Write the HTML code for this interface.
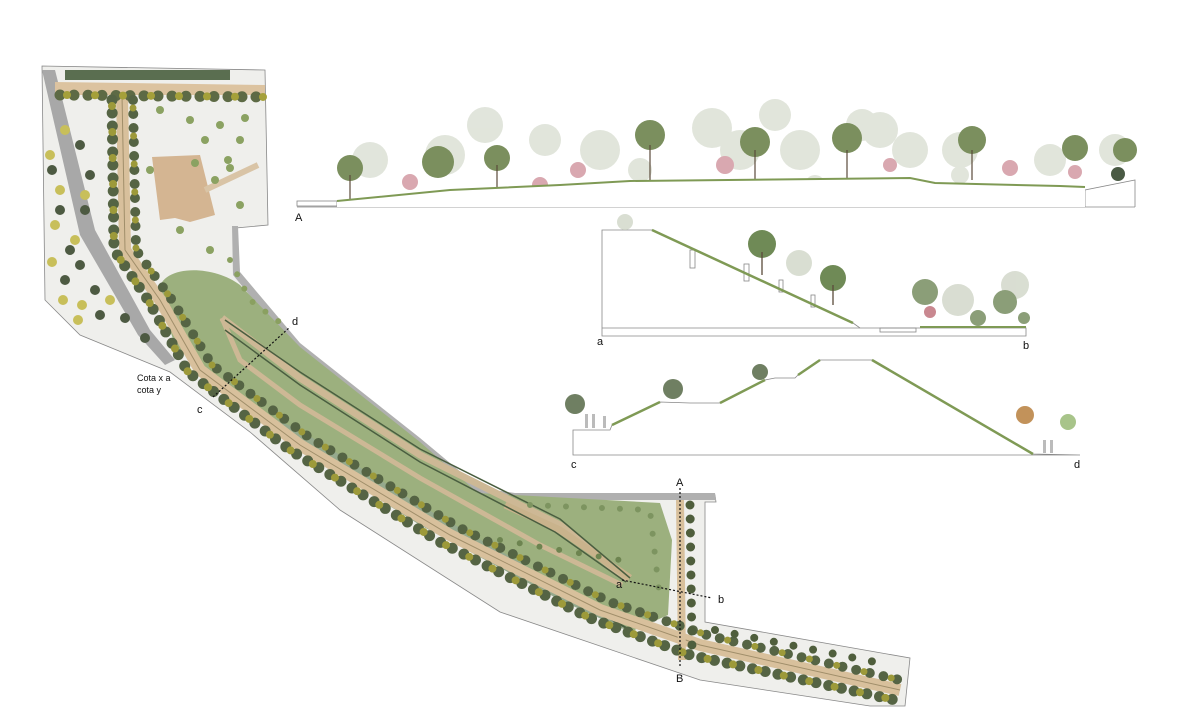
<!DOCTYPE html>
<html><head><meta charset="utf-8"><style>
html,body{margin:0;padding:0;background:#fff;}
svg{display:block;font-family:"Liberation Sans",sans-serif;}
</style></head><body>
<svg width="1189" height="724" viewBox="0 0 1189 724" xmlns="http://www.w3.org/2000/svg">
<!-- PLAN -->
<path d="M42,66 L265,70 L268,225 L236,228 L238,272 L300,345 L420,440 L480,490 L515,495 L715,495 L716,502 L705,502 L705,622 L910,658 L905,706 L870,706 L700,680 L500,612 L340,510 L250,432 L170,372 L80,335 L45,300 Z" fill="#efefec" stroke="#888" stroke-width="0.8"/>
<path d="M42,70 L55,70 L95,230 L150,330 L175,360 L165,365 L138,335 L80,235 Z" fill="#a8a8a8"/>
<path d="M232,226 L238,226 L240,272 L300,343 L420,438 L480,488 L515,493 L715,493 L716,500 L512,500 L476,494 L415,445 L295,350 L233,275 Z" fill="#b0b0b0"/>
<rect x="65" y="70" width="165" height="10" fill="#5a6e50"/>
<path d="M55,82 L265,85 L265,95 L55,95 Z" fill="#dcc3a0"/>
<path d="M152,157 L200,155 L215,215 L190,222 L175,218 L160,220 Z" fill="#d4b592"/>
<path d="M205,190 L258,165" stroke="#d9c4a6" stroke-width="6" fill="none"/>
<!-- meadow -->
<path d="M160,300 C150,265 210,262 240,285 L300,347 L420,442 L478,493 L660,503 L672,540 L668,615 L630,632 L560,600 L420,525 L300,450 L220,390 L175,345 Z" fill="#9cb07e"/>
<path d="M230,400 L300,450 L420,525 L560,600 L630,632 L560,585 L420,505 L300,430 Z" fill="#8fa1a0" opacity="0.45"/>
<!-- ramps -->
<path d="M222,318 L300,378 L420,455 L560,525 L628,580" stroke="#cdb895" stroke-width="7" fill="none"/>
<path d="M222,318 L240,360 L300,405 L420,478 L540,545 L622,585" stroke="#cdb895" stroke-width="5" fill="none"/>
<path d="M505,505 L560,530 L630,578" stroke="#c9b38c" stroke-width="7" fill="none"/>
<path d="M225,320 L300,372 L420,449 L560,519 L630,578" stroke="#4a5e40" stroke-width="1.5" fill="none"/>
<path d="M225,330 L300,385 L420,462 L555,532 L626,582" stroke="#4a5e40" stroke-width="1.5" fill="none"/>
<path d="M210,380 L300,440 L430,520 L560,590 L630,630" stroke="#4a5e40" stroke-width="2" fill="none"/>
<!-- main path band -->
<path d="M122,95 L125,250 L160,300 L200,370 L300,445 L450,535 L600,610 L700,645 L900,690" stroke="#d8c09c" stroke-width="12" fill="none"/>
<path d="M122,95 L125,250 L160,300 L200,370 L300,445 L450,535 L600,610 L700,645 L900,690" stroke="#a08e6a" stroke-width="1" fill="none"/>
<path d="M680,500 L682,660" stroke="#d8c09c" stroke-width="8" fill="none"/>
<g fill="none" stroke-linecap="round">
<path d="M60,95 L265,97" stroke="#5d6a45" stroke-width="11" stroke-dasharray="0 14"/>
<path d="M67,95 L265,97" stroke="#a5a03a" stroke-width="8" stroke-dasharray="0 28"/>
<path d="M112,100 L114,250 L148,300 L188,372 L290,450 L440,542 L590,618 L690,655 L895,700" stroke="#556444" stroke-width="11" stroke-dasharray="0 13"/>
<path d="M112,106 L114,250 L148,300 L188,372 L290,450 L440,542 L590,618 L690,655 L895,700" stroke="#9d9a3a" stroke-width="8" stroke-dasharray="0 26"/>
<path d="M133,100 L136,250 L172,300 L212,365 L310,438 L460,528 L610,602 L710,636 L900,680" stroke="#556444" stroke-width="10" stroke-dasharray="0 14"/>
<path d="M133,108 L136,250 L172,300 L212,365 L310,438 L460,528 L610,602 L710,636 L900,680" stroke="#9d9a3a" stroke-width="7" stroke-dasharray="0 28"/>
<path d="M690,505 L692,650" stroke="#4f5e3c" stroke-width="9" stroke-dasharray="0 14"/>
<path d="M715,630 L890,665" stroke="#4f5e3c" stroke-width="8" stroke-dasharray="0 20"/>
<path d="M530,505 L650,510 L660,600" stroke="#7d9460" stroke-width="6" stroke-dasharray="0 18"/>
<path d="M500,540 L620,560" stroke="#6d8450" stroke-width="6" stroke-dasharray="0 20"/>
<path d="M230,260 L250,300 L290,330" stroke="#8aa060" stroke-width="6" stroke-dasharray="0 16"/>
</g>
<g fill="#8ba262">
<circle cx="160" cy="110" r="4"/><circle cx="190" cy="120" r="4"/><circle cx="220" cy="125" r="4"/><circle cx="245" cy="118" r="4"/><circle cx="240" cy="140" r="4"/><circle cx="205" cy="140" r="4"/><circle cx="150" cy="170" r="4"/><circle cx="215" cy="180" r="4"/><circle cx="230" cy="168" r="4"/><circle cx="240" cy="205" r="4"/><circle cx="210" cy="250" r="4"/><circle cx="180" cy="230" r="4"/><circle cx="228" cy="160" r="4"/><circle cx="195" cy="163" r="4"/>
</g>
<g fill="#4d5a42">
<circle cx="80" cy="145" r="5"/><circle cx="90" cy="175" r="5"/><circle cx="52" cy="170" r="5"/><circle cx="60" cy="210" r="5"/><circle cx="85" cy="210" r="5"/><circle cx="80" cy="265" r="5"/><circle cx="65" cy="280" r="5"/><circle cx="95" cy="290" r="5"/><circle cx="100" cy="315" r="5"/><circle cx="125" cy="318" r="5"/><circle cx="145" cy="338" r="5"/><circle cx="70" cy="250" r="5"/>
</g>
<g fill="#c8bf5a">
<circle cx="65" cy="130" r="5"/><circle cx="50" cy="155" r="5"/><circle cx="60" cy="190" r="5"/><circle cx="85" cy="195" r="5"/><circle cx="55" cy="225" r="5"/><circle cx="75" cy="240" r="5"/><circle cx="52" cy="262" r="5"/><circle cx="63" cy="300" r="5"/><circle cx="82" cy="305" r="5"/><circle cx="110" cy="300" r="5"/><circle cx="78" cy="320" r="5"/>
</g>
<g stroke="#111" stroke-width="1.2" stroke-dasharray="2 2" fill="none">
<line x1="213" y1="397" x2="290" y2="327"/>
<line x1="680" y1="488" x2="680" y2="668"/>
<line x1="622" y1="580" x2="712" y2="598"/>
</g>
<g font-size="11" fill="#111">
<text x="137" y="381" font-size="9">Cota x a</text>
<text x="137" y="393" font-size="9">cota y</text>
<text x="197" y="413">c</text>
<text x="292" y="325">d</text>
<text x="676" y="486">A</text>
<text x="676" y="682">B</text>
<text x="616" y="588">a</text>
<text x="718" y="603">b</text>
</g>

<!-- SECTION A -->
<g>
<rect x="297" y="201" width="40" height="5" fill="none" stroke="#888" stroke-width="0.8"/>
<path d="M297,207 L1135,207 M1085,207 L1085,190 L1135,180 L1135,207" stroke="#888" stroke-width="0.8" fill="none"/>
<g opacity="0.55" fill="#c9d0bf">
<circle cx="370" cy="160" r="18"/><circle cx="445" cy="155" r="20"/><circle cx="485" cy="125" r="18"/><circle cx="545" cy="140" r="16"/><circle cx="600" cy="150" r="20"/><circle cx="712" cy="128" r="20"/><circle cx="740" cy="150" r="20"/><circle cx="775" cy="115" r="16"/><circle cx="800" cy="150" r="20"/><circle cx="862" cy="125" r="16"/><circle cx="880" cy="130" r="18"/><circle cx="910" cy="150" r="18"/><circle cx="960" cy="150" r="18"/><circle cx="1050" cy="160" r="16"/><circle cx="1115" cy="150" r="16"/><circle cx="815" cy="185" r="10"/><circle cx="960" cy="175" r="9"/><circle cx="640" cy="170" r="12"/>
</g>
<g fill="#7b8f5e">
<circle cx="350" cy="168" r="13"/><circle cx="438" cy="162" r="16"/><circle cx="497" cy="158" r="13"/><circle cx="650" cy="135" r="15"/><circle cx="755" cy="142" r="15"/><circle cx="847" cy="138" r="15"/><circle cx="972" cy="140" r="14"/><circle cx="1125" cy="150" r="12"/><circle cx="1075" cy="148" r="13"/>
</g>
<g fill="#d9a8b0"><circle cx="410" cy="182" r="8"/><circle cx="540" cy="185" r="8"/><circle cx="578" cy="170" r="8"/><circle cx="725" cy="165" r="9"/><circle cx="1010" cy="168" r="8"/><circle cx="1075" cy="172" r="7"/><circle cx="890" cy="165" r="7"/></g>
<g stroke="#5a4a3a" stroke-width="1.2"><line x1="350" y1="175" x2="350" y2="200"/><line x1="497" y1="165" x2="497" y2="190"/><line x1="650" y1="145" x2="650" y2="182"/><line x1="847" y1="150" x2="847" y2="180"/><line x1="972" y1="150" x2="972" y2="180"/><line x1="755" y1="150" x2="755" y2="181"/></g>
<path d="M337,201 L450,190 L560,185 L630,181 L910,178 L935,183 L1060,186 L1085,187 L1085,207 L337,207 Z" fill="#fff"/>
<path d="M337,201 L450,190 L560,185 L630,181 L910,178 L935,183 L1060,186 L1085,187" stroke="#7f9a55" stroke-width="2" fill="none"/>
<circle cx="1118" cy="174" r="7" fill="#4a5a44"/>
<text x="295" y="221" font-size="11" fill="#111">A</text>
</g>

<!-- SECTION a-b -->
<g stroke="#888" stroke-width="0.8" fill="none">
<path d="M602,230 L652,230 L853,323 L860,328 L1026,328 L1026,336 L602,336 Z"/>
<line x1="602" y1="328" x2="860" y2="328"/>
<rect x="880" y="328" width="36" height="4"/>
<rect x="690" y="250" width="5" height="18"/><rect x="744" y="264" width="5" height="17"/><rect x="779" y="280" width="4" height="12"/><rect x="811" y="295" width="4" height="12"/>
</g>
<path d="M652,230 L853,323" stroke="#7f9a55" stroke-width="2.5"/>
<line x1="920" y1="327" x2="1026" y2="327" stroke="#7f9a55" stroke-width="2"/>
<g fill="#6f8a56"><circle cx="762" cy="244" r="14"/><circle cx="833" cy="278" r="13"/></g>
<g stroke="#5a4a3a" stroke-width="1.3"><line x1="762" y1="252" x2="762" y2="275"/><line x1="833" y1="285" x2="833" y2="305"/></g>
<g fill="#c9d0bf" opacity="0.7"><circle cx="799" cy="263" r="13"/><circle cx="958" cy="300" r="16"/><circle cx="1015" cy="285" r="14"/><circle cx="625" cy="222" r="8"/></g>
<g fill="#8b9e78"><circle cx="925" cy="292" r="13"/><circle cx="1005" cy="302" r="12"/><circle cx="978" cy="318" r="8"/><circle cx="1024" cy="318" r="6"/></g>
<circle cx="930" cy="312" r="6" fill="#c98890"/>
<text x="597" y="345" font-size="11" fill="#111">a</text>
<text x="1023" y="349" font-size="11" fill="#111">b</text>

<!-- SECTION c-d -->
<path d="M573,455 L573,430 L610,430 L612,425 L660,402 L690,403 L720,403 L765,380 L775,378 L795,378 L798,375 L820,360 L872,360 L1033,454 L1080,455 Z" fill="#fff" stroke="#888" stroke-width="0.8"/>
<path d="M612,425 L660,402 M720,403 L765,380 M798,375 L820,360 M872,360 L1033,454" stroke="#7f9a55" stroke-width="2.5" fill="none"/>
<g fill="#6f7f62"><circle cx="575" cy="404" r="10"/><circle cx="673" cy="389" r="10"/><circle cx="760" cy="372" r="8"/></g>
<circle cx="1025" cy="415" r="9" fill="#c2925a"/><circle cx="1068" cy="422" r="8" fill="#a8c48a"/>
<g fill="#bbb"><rect x="585" y="414" width="3" height="14"/><rect x="592" y="414" width="3" height="14"/><rect x="603" y="416" width="3" height="12"/><rect x="1043" y="440" width="3" height="13"/><rect x="1050" y="440" width="3" height="13"/></g>
<text x="571" y="468" font-size="11" fill="#111">c</text>
<text x="1074" y="468" font-size="11" fill="#111">d</text>
</svg>
</body></html>
